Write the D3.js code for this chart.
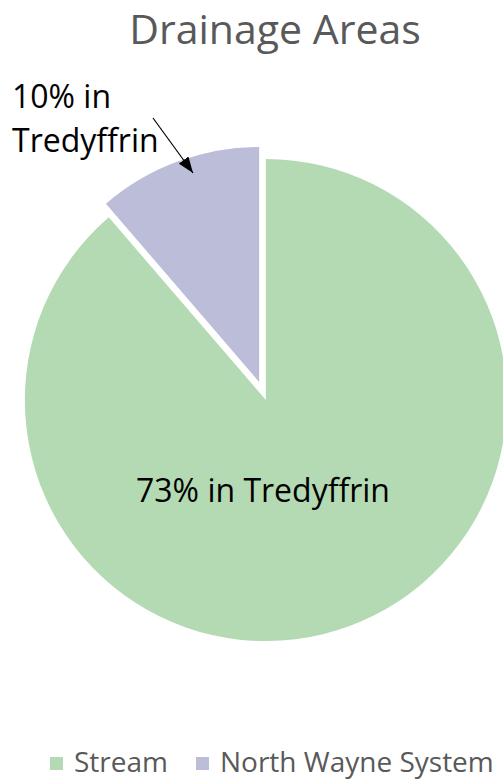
<!DOCTYPE html>
<html>
<head>
<meta charset="utf-8">
<script src="https://cdn.jsdelivr.net/npm/d3@7"></script>
<style>
body { margin: 0; background: #fff; }
text { font-family: "Open Sans", sans-serif; }
</style>
</head>
<body>
<script>
// data
var categories = ["Stream", "North Wayne System"];
var values = [88.7, 11.3];
var colors = ["#b4dab4", "#bbbdd9"];
var labels = ["73% in Tredyffrin", "10% in Tredyffrin"];

var width = 503, height = 780;
var cx = 262.5, cy = 391;
var radii = [241, 235];
var explode = 9.7;

var svg = d3.select('body').append('svg')
  .attr('width', width)
  .attr('height', height);

svg.append('text')
  .attr('x', 275)
  .attr('y', 44)
  .attr('text-anchor', 'middle')
  .attr('font-size', 41)
  .attr('fill', '#595959')
  .text('Drainage Areas');

var pie = d3.pie().sort(null).value(function(d){ return d; });
var arcs = pie(values);

svg.selectAll('path.slice')
  .data(arcs)
  .enter().append('path')
  .attr('class', 'slice')
  .attr('fill', function(d, i){ return colors[i]; })
  .attr('transform', function(d){
    var mid = (d.startAngle + d.endAngle) / 2;
    return 'translate(' + (cx + Math.sin(mid) * explode) + ',' + (cy - Math.cos(mid) * explode) + ')';
  })
  .attr('d', function(d, i){
    return d3.arc().innerRadius(0).outerRadius(radii[i])(d);
  });

// label inside the big slice
svg.append('text')
  .attr('x', 263)
  .attr('y', 502)
  .attr('text-anchor', 'middle')
  .attr('font-size', 32)
  .attr('fill', '#000')
  .text(labels[0]);

// callout for the small slice
var parts = labels[1].split(' ');
var callout = svg.append('text')
  .attr('font-size', 32)
  .attr('fill', '#000');
callout.append('tspan').attr('x', 12).attr('y', 108).text(parts[0] + ' ' + parts[1]);
callout.append('tspan').attr('x', 12).attr('y', 152).text(parts[2]);

svg.append('defs').append('marker')
  .attr('id', 'arrow')
  .attr('viewBox', '0 0 16 12')
  .attr('refX', 16)
  .attr('refY', 6)
  .attr('markerWidth', 16)
  .attr('markerHeight', 12)
  .attr('markerUnits', 'userSpaceOnUse')
  .attr('orient', 'auto')
  .append('path')
  .attr('d', 'M0,0L16,6L0,12Z')
  .attr('fill', '#000');

svg.append('line')
  .attr('x1', 153).attr('y1', 118)
  .attr('x2', 193).attr('y2', 173)
  .attr('stroke', '#000')
  .attr('stroke-width', 1.2)
  .attr('marker-end', 'url(#arrow)');

// legend
var legendX = [50, 196];
var legend = svg.selectAll('g.legend')
  .data(categories)
  .enter().append('g')
  .attr('class', 'legend')
  .attr('transform', function(d, i){ return 'translate(' + legendX[i] + ',757)'; });

legend.append('rect')
  .attr('width', 13)
  .attr('height', 13)
  .attr('fill', function(d, i){ return colors[i]; });

legend.append('text')
  .attr('x', 24)
  .attr('y', 15)
  .attr('font-size', 28)
  .attr('fill', '#595959')
  .text(function(d){ return d; });
</script>
</body>
</html>
